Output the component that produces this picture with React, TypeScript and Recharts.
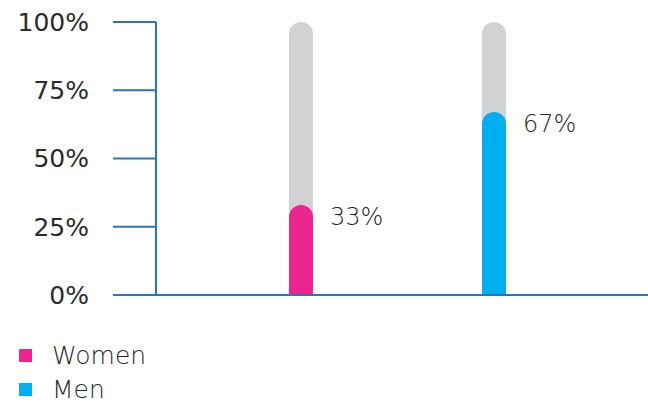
import { BarChart, Bar, XAxis, YAxis, Cell, LabelList } from 'recharts';

const categories = ['Women', 'Men'];
const shares = [33, 67];
const colors = ['#ec268f', '#00aeef'];
const yTicks = [0, 25, 50, 75, 100];

const data = categories.map((name, i) => ({ name, value: shares[i] }));

const AXIS = '#2f72b8';
const FONT = "'DejaVu Sans', sans-serif";

const ValueLabel = (props: any) => {
  const { x, y, width, value } = props;
  return (
    <text
      x={x + width + 17}
      y={y + 20}
      fill="#262626"
      fontSize={24}
      fontWeight={200}
      fontFamily={FONT}
    >
      {value}%
    </text>
  );
};

export default function App() {
  return (
    <div style={{ position: 'absolute', left: 0, top: 0, width: 648, height: 404, background: '#fff' }}>
      <BarChart
        width={648}
        height={404}
        data={data}
        margin={{ top: 22, right: 0, left: 0, bottom: 108 }}
      >
        <XAxis
          dataKey="name"
          tick={false}
          tickLine={false}
          height={1}
          stroke={AXIS}
          strokeWidth={2}
          padding={{ left: 48, right: 58 }}
        />
        <YAxis
          domain={[0, 100]}
          ticks={yTicks}
          width={156}
          tickSize={43}
          tickMargin={24}
          tickFormatter={(v: number) => `${v}%`}
          stroke={AXIS}
          strokeWidth={2}
          tick={{ fill: '#2b2b2b', fontSize: 25, fontFamily: FONT }}
        />
        <Bar
          dataKey="value"
          barSize={24}
          radius={[12, 12, 0, 0]}
          background={{ fill: '#d1d2d4', radius: [12, 12, 0, 0] } as any}
          isAnimationActive={false}
        >
          {data.map((d, i) => (
            <Cell key={d.name} fill={colors[i]} />
          ))}
          <LabelList dataKey="value" content={ValueLabel} />
        </Bar>
      </BarChart>
      <div style={{ position: 'absolute', left: 19, top: 338, fontFamily: FONT, color: '#262626', fontSize: 25, fontWeight: 200 }}>
        {categories.map((c, i) => (
          <div key={c} style={{ display: 'flex', alignItems: 'center', height: 34 }}>
            <span style={{ width: 13, height: 13, background: colors[i], display: 'inline-block', marginRight: 20 }} />
            <span>{c}</span>
          </div>
        ))}
      </div>
    </div>
  );
}
